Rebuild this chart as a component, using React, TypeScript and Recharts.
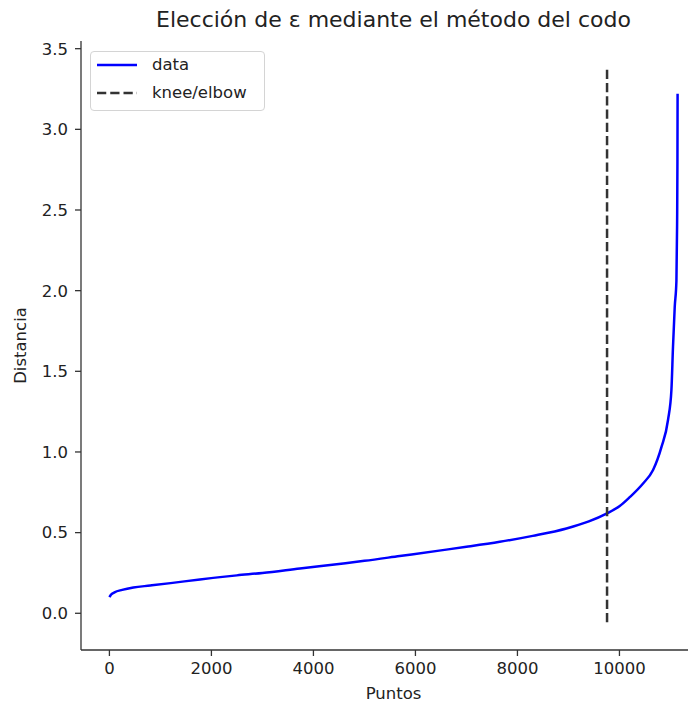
import React from "react";
import { LineChart, Line, XAxis, YAxis, Legend } from "recharts";

const curveX = [0, 30, 100, 250, 470, 800, 1200, 1775, 2500, 3000, 3735, 4500, 5000, 5693, 6500, 7000, 7654, 8300, 8961, 9400, 9757, 10006, 10202, 10463, 10659, 10823, 10953, 11019, 11050, 11084, 11117, 11130, 11137, 11140];
const curveY = [0.10, 0.115, 0.13, 0.145, 0.16, 0.172, 0.187, 0.21, 0.235, 0.25, 0.278, 0.306, 0.325, 0.355, 0.39, 0.412, 0.443, 0.48, 0.526, 0.57, 0.62, 0.665, 0.72, 0.805, 0.888, 1.03, 1.2, 1.384, 1.652, 1.9, 2.06, 2.4, 2.8, 3.22];

const kneeX = [9757, 9757];
const kneeY = [-0.056, 3.376];

const xTicks = [0, 2000, 4000, 6000, 8000, 10000];
const yTicks = [0, 0.5, 1.0, 1.5, 2.0, 2.5, 3.0, 3.5];

const seriesNames = ["data", "knee/elbow"];
const title = "Elección de ε mediante el método del codo";
const xLabel = "Puntos";
const yLabel = "Distancia";

const curveData = curveX.map((x, i) => ({ x, y: curveY[i] }));
const kneeData = kneeX.map((x, i) => ({ x, y: kneeY[i] }));

const FONT = "'DejaVu Sans', sans-serif";
const BLUE = "#0000ff";
const DARK = "#333333";

const LegendBox = () => (
  <div
    style={{
      position: "relative",
      width: 175,
      height: 60,
      boxSizing: "border-box",
      border: "1px solid #d4d4d4",
      borderRadius: 4,
      background: "rgba(255,255,255,0.8)",
      fontFamily: FONT,
      fontSize: 16.5,
      color: "#222",
    }}
  >
    <svg width={50} height={60} style={{ position: "absolute", left: 0, top: 0 }}>
      <line x1={6} y1={13} x2={46} y2={13} stroke={BLUE} strokeWidth={2.5} />
      <line x1={6} y1={41} x2={46} y2={41} stroke={DARK} strokeWidth={2.5} strokeDasharray="9.25 4" />
    </svg>
    <div style={{ position: "absolute", left: 61, top: 13, transform: "translateY(-50%)", lineHeight: 1, whiteSpace: "nowrap" }}>{seriesNames[0]}</div>
    <div style={{ position: "absolute", left: 61, top: 41, transform: "translateY(-50%)", lineHeight: 1, whiteSpace: "nowrap" }}>{seriesNames[1]}</div>
  </div>
);

export default function App() {
  return (
    <div style={{ width: 688, height: 698, overflow: "hidden", position: "relative" }}>
      <LineChart width={720} height={698} margin={{ top: 33, right: 22, bottom: 0, left: 0 }}>
        <XAxis
          xAxisId="top"
          orientation="top"
          type="number"
          dataKey="x"
          domain={[-557, 11697]}
          height={0}
          tick={false}
          tickLine={false}
          axisLine={{ stroke: DARK, strokeWidth: 1.3 }}
          allowDataOverflow
        />
        <XAxis
          type="number"
          dataKey="x"
          domain={[-557, 11697]}
          ticks={xTicks}
          height={56}
          tickSize={6}
          tickMargin={6}
          allowDataOverflow
          interval={0}
          tick={{ fill: "#222", fontSize: 16.5, fontFamily: FONT }}
          tickLine={{ stroke: DARK, strokeWidth: 1.3 }}
          axisLine={{ stroke: DARK, strokeWidth: 1.3 }}
        />
        <YAxis
          type="number"
          domain={[-0.2276, 3.5476]}
          ticks={yTicks}
          width={73}
          tickSize={6}
          tickMargin={7}
          allowDataOverflow
          interval={0}
          tickFormatter={(v: number) => v.toFixed(1)}
          tick={{ fill: "#222", fontSize: 16.5, fontFamily: FONT }}
          tickLine={{ stroke: DARK, strokeWidth: 1.3 }}
          axisLine={{ stroke: DARK, strokeWidth: 1.3 }}
        />
        <Legend
          layout="vertical"
          align="center"
          verticalAlign="middle"
          content={() => <LegendBox />}
          wrapperStyle={{ position: "absolute", left: 82, top: 43, width: 175, height: 60 }}
        />
        <Line
          data={curveData}
          dataKey="y"
          name={seriesNames[0]}
          type="monotone"
          stroke={BLUE}
          strokeWidth={2.5}
          dot={false}
          activeDot={false}
          isAnimationActive={false}
        />
        <Line
          data={kneeData}
          dataKey="y"
          name={seriesNames[1]}
          type="linear"
          stroke={DARK}
          strokeWidth={2.5}
          strokeDasharray="9.25 4"
          dot={false}
          activeDot={false}
          isAnimationActive={false}
        />
        <text x={385.5} y={19} textAnchor="middle" fontFamily={FONT} fontSize={22} fill="#222">
          {title}
        </text>
        <text x={385.5} y={691} textAnchor="middle" fontFamily={FONT} fontSize={16.5} fill="#222">
          {xLabel}
        </text>
        <text
          x={18}
          y={337.5}
          textAnchor="middle"
          fontFamily={FONT}
          fontSize={16.5}
          fill="#222"
          transform="rotate(-90, 18, 337.5)"
        >
          {yLabel}
        </text>
      </LineChart>
    </div>
  );
}
